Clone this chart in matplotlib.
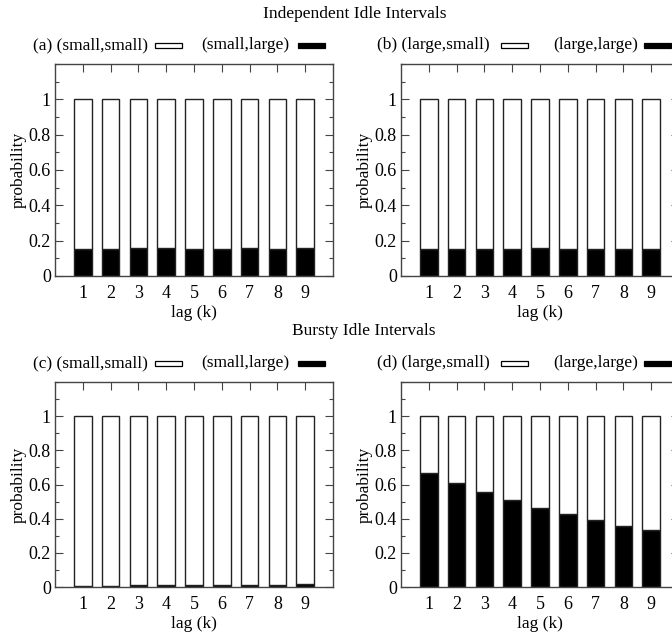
import matplotlib
matplotlib.use("Agg")
import matplotlib.pyplot as plt
from matplotlib.patches import Rectangle
from matplotlib.ticker import MultipleLocator

plt.rcParams['font.family'] = ['Liberation Serif', 'DejaVu Serif']

lags = [1, 2, 3, 4, 5, 6, 7, 8, 9]
ytick_vals = [0, 0.2, 0.4, 0.6, 0.8, 1.0]
ytick_labels = ["0", "0.2", "0.4", "0.6", "0.8", "1"]

# black (second-state) probabilities per panel; white part fills up to 1
a_small_large = [0.155, 0.155, 0.156, 0.156, 0.155, 0.155, 0.156, 0.155, 0.156]
b_large_large = [0.154, 0.154, 0.151, 0.151, 0.158, 0.153, 0.153, 0.155, 0.151]
c_small_large = [0.006, 0.008, 0.009, 0.010, 0.011, 0.012, 0.013, 0.014, 0.016]
d_large_large = [0.665, 0.606, 0.558, 0.508, 0.465, 0.425, 0.390, 0.360, 0.331]

panel_tags = ["(a)", "(b)", "(c)", "(d)"]
white_labels = ["(small,small)", "(large,small)", "(small,small)", "(large,small)"]
black_labels = ["(small,large)", "(large,large)", "(small,large)", "(large,large)"]
row_titles = ["Independent Idle Intervals", "Bursty Idle Intervals"]

W, H = 672, 635
fig = plt.figure(figsize=(W / 100, H / 100), dpi=100)

def fx(x):
    return x / W

def fy(y):
    return 1 - y / H

FS = 12
TFS = 13
LFS = 12.5
spine_col = "#444444"

# axes rectangles in pixel coords (left, top, right, bottom)
rects = [(55, 64, 333, 276), (401, 64, 679, 276),
         (55, 382, 333, 587), (401, 382, 679, 587)]
datas = [a_small_large, b_large_large, c_small_large, d_large_large]

for i, ((l, t, r, b), vals) in enumerate(zip(rects, datas)):
    ax = fig.add_axes([fx(l), fy(b), (r - l) / W, (b - t) / H])
    whites = [1 - v for v in vals]
    ax.bar(lags, vals, width=0.63, color="black", edgecolor="#222222", linewidth=1.0, zorder=2)
    ax.bar(lags, whites, bottom=vals, width=0.63, color="white", edgecolor="#222222", linewidth=1.0, zorder=2)
    ax.set_xlim(0, 10)
    ax.set_ylim(0, 1.2)
    ax.set_xticks(lags)
    ax.set_xticklabels([str(k) for k in lags])
    ax.set_yticks(ytick_vals)
    ax.set_yticklabels(ytick_labels)
    ax.yaxis.set_minor_locator(MultipleLocator(0.1))
    ax.tick_params(axis='both', which='both', direction='in', top=True, right=True,
                   color=spine_col, labelsize=TFS)
    ax.tick_params(axis='both', which='major', length=5.5, width=0.8)
    ax.tick_params(axis='y', which='minor', length=3, width=0.8)
    ax.tick_params(axis='x', which='major', pad=6.5)
    ax.tick_params(axis='y', which='major', pad=3)
    for s in ax.spines.values():
        s.set_color(spine_col)
        s.set_linewidth(1.0)
    ax.set_xlabel("lag (k)", fontsize=FS + 0.5, labelpad=2)
    fig.text(fx(l - 36), fy((t + b) / 2), "probability", rotation=90,
             ha='center', va='center', fontsize=FS + 0.5)

# legends
leg_rows = [45, 363]
leg_x = [(33, 155, 201, 298), (377, 501, 553, 644)]
for i in range(4):
    row = i // 2
    col = i % 2
    y = leg_rows[row]
    tx, wbx, t2x, bbx = leg_x[col]
    fig.text(fx(tx), fy(y), panel_tags[i] + " " + white_labels[i], ha='left', va='center', fontsize=LFS)
    fig.patches.append(Rectangle((fx(wbx), fy(y + 2.5)), 27 / W, 5 / H, transform=fig.transFigure,
                                 facecolor='white', edgecolor='black', linewidth=0.9))
    fig.text(fx(t2x), fy(y), black_labels[i], ha='left', va='center', fontsize=LFS)
    fig.patches.append(Rectangle((fx(bbx), fy(y + 2.5)), 27 / W, 5 / H, transform=fig.transFigure,
                                 facecolor='black', edgecolor='black', linewidth=0.9))

fig.text(fx(355), fy(14), row_titles[0], ha='center', va='center', fontsize=LFS)
fig.text(fx(364), fy(331), row_titles[1], ha='center', va='center', fontsize=LFS)

fig.savefig("out.png", dpi=100)
